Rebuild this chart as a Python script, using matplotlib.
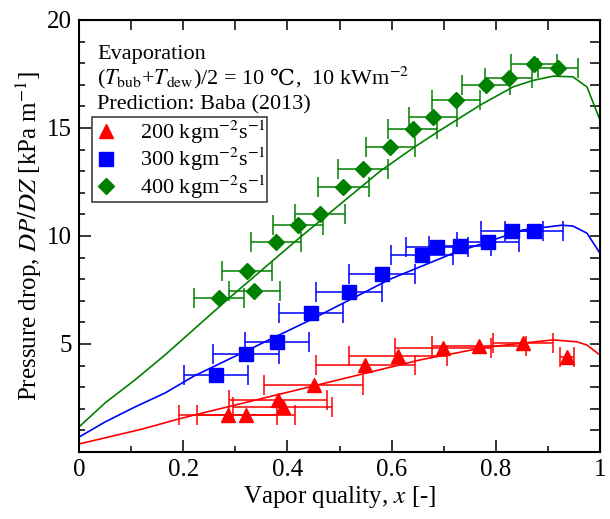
import numpy as np
import matplotlib
matplotlib.use("Agg")
import matplotlib.pyplot as plt

plt.rcParams["font.family"] = ["Liberation Serif", "DejaVu Serif"]
plt.rcParams["mathtext.fontset"] = "stix"

# measured points, G = 200 kg/m2s
x_200 = [0.286, 0.321, 0.382, 0.391, 0.451, 0.549, 0.612, 0.699, 0.768, 0.852, 0.937]
y_200 = [1.71, 1.71, 2.41, 2.08, 3.10, 4.03, 4.44, 4.81, 4.91, 5.05, 4.40]
xerr_200 = [0.094, 0.094, 0.094, 0.095, 0.095, 0.095, 0.094, 0.092, 0.09, 0.058, 0.013]

# measured points, G = 300 kg/m2s
x_300 = [0.263, 0.321, 0.380, 0.445, 0.518, 0.581, 0.658, 0.687, 0.731, 0.785, 0.831, 0.873]
y_300 = [3.56, 4.54, 5.09, 6.43, 7.41, 8.24, 9.12, 9.49, 9.56, 9.72, 10.25, 10.23]
xerr_300 = [0.061, 0.063, 0.062, 0.062, 0.063, 0.063, 0.059, 0.06, 0.06, 0.06, 0.06, 0.056]

# measured points, G = 400 kg/m2s
x_400 = [0.269, 0.322, 0.336, 0.378, 0.420, 0.463, 0.507, 0.545, 0.597, 0.641, 0.679,
         0.724, 0.781, 0.825, 0.873, 0.919]
y_400 = [7.13, 8.38, 7.45, 9.70, 10.5, 11.0, 12.27, 13.1, 14.1, 14.95, 15.5,
         16.3, 17.0, 17.3, 17.96, 17.78]
xerr_400 = [0.048, 0.048, 0.049, 0.048, 0.048, 0.048, 0.049, 0.048, 0.047, 0.047, 0.046,
            0.046, 0.046, 0.045, 0.044, 0.038]

# prediction, Baba (2013)
px_200 = [0, 0.056, 0.121, 0.184, 0.221, 0.520, 0.654, 0.783, 0.910, 0.956, 0.975, 1.0]
py_200 = [0.37, 0.69, 1.06, 1.48, 1.71, 3.47, 4.26, 4.86, 5.19, 5.1, 4.95, 4.49]
px_300 = [0, 0.05, 0.107, 0.165, 0.221, 0.443, 0.597, 0.718, 0.783, 0.852, 0.927, 0.948, 0.975, 1.0]
py_300 = [0.69, 1.39, 2.08, 2.73, 3.52, 6.1, 8.0, 9.2, 9.72, 10.28, 10.5, 10.46, 10.13, 9.2]
px_400 = [0, 0.05, 0.107, 0.165, 0.221, 0.284, 0.418, 0.578, 0.641, 0.687, 0.770, 0.833,
          0.871, 0.910, 0.948, 0.975, 1.0]
py_400 = [1.16, 2.27, 3.33, 4.49, 5.69, 7.04, 9.81, 13.0, 14.07, 14.8, 16.06, 16.9,
          17.2, 17.4, 17.37, 16.9, 15.37]

labels = ["200 kgm$^{-2}$s$^{-1}$", "300 kgm$^{-2}$s$^{-1}$", "400 kgm$^{-2}$s$^{-1}$"]

fig = plt.figure(figsize=(6.1, 5.19), dpi=100)
ax = fig.add_axes([79/610, 67/519, 521/610, 432/519])

series = [
    (x_200, y_200, xerr_200, px_200, py_200, "#ff0000", "^", 10),
    (x_300, y_300, xerr_300, px_300, py_300, "#0000ff", "s", 10),
    (x_400, y_400, xerr_400, px_400, py_400, "#008000", "D", 8),
]
handles = []
for (xs, ys, xe, px, py, c, m, ms), lab in zip(series, labels):
    ax.plot(px, py, color=c, lw=1.2, zorder=2)
    ax.errorbar(xs, ys, xerr=xe, fmt="none", ecolor=c, elinewidth=1.3,
                capsize=7, capthick=1.3, alpha=0.85, zorder=3)
    h, = ax.plot(xs, ys, ls="none", marker=m, ms=ms, color=c, mec=c, zorder=4, label=lab)
    handles.append(h)

ax.set_xlim(0, 1)
ax.set_ylim(0, 20)
ax.set_xticks([0, 0.2, 0.4, 0.6, 0.8, 1.0])
ax.set_xticklabels(["0", "0.2", "0.4", "0.6", "0.8", "1"])
ax.set_xticks(np.arange(0.1, 1.0, 0.2), minor=True)
ax.set_yticks([5, 10, 15, 20])
ax.set_yticks([y for y in range(1, 20) if y % 5 != 0], minor=True)
ax.tick_params(which="both", direction="in", width=1.1, labelsize=18, pad=5)
ax.tick_params(which="major", length=8.5)
ax.tick_params(which="minor", length=4.3)
for s in ax.spines.values():
    s.set_linewidth(1.5)

# ticks on top and right, all the same length
top = ax.secondary_xaxis("top")
top.set_xticks(np.arange(0, 1.001, 0.1))
top.tick_params(direction="in", length=7, width=1.1, labeltop=False)
right = ax.secondary_yaxis("right")
right.set_yticks(np.arange(0, 20.1, 1))
right.tick_params(direction="in", length=7, width=1.1, labelright=False)

ax.set_xlabel("Vapor quality, $x$ [-]", fontsize=18, labelpad=2)
ax.set_ylabel("Pressure drop, $DP/DZ$ [kPa m$^{-1}$]", fontsize=18, labelpad=2)

# annotation, the degree sign is drawn as plain text between two math pieces
ax.text(0.035, 18.2, "Evaporation", fontsize=16, va="baseline")
t1 = ax.text(0.035, 17.0, r"($T_{\mathrm{bub}}$+$T_{\mathrm{dew}}$)/2 = 10",
             fontsize=16, va="baseline")
ax.text(0.035, 15.85, "Prediction: Baba (2013)", fontsize=16, va="baseline")

fig.canvas.draw()
inv = ax.transData.inverted()
x1 = t1.get_window_extent().x1
t2 = ax.text(inv.transform((x1 + 5, 0))[0], 17.0, "℃", fontsize=16, va="baseline",
             family=["DejaVu Serif"])
fig.canvas.draw()
x2 = t2.get_window_extent().x1
ax.text(inv.transform((x2, 0))[0], 17.0, r",  10 kWm$^{-2}$", fontsize=16, va="baseline")

leg = ax.legend(handles=handles, loc="upper left", bbox_to_anchor=(0.025, 0.775),
                borderaxespad=0, fontsize=16, frameon=True, fancybox=False,
                handlelength=1.2, handletextpad=0.9, labelspacing=0.0,
                borderpad=0.05, numpoints=1)
leg.get_frame().set_edgecolor("k")
leg.get_frame().set_linewidth(1.1)

fig.savefig("out.png", dpi=100)
